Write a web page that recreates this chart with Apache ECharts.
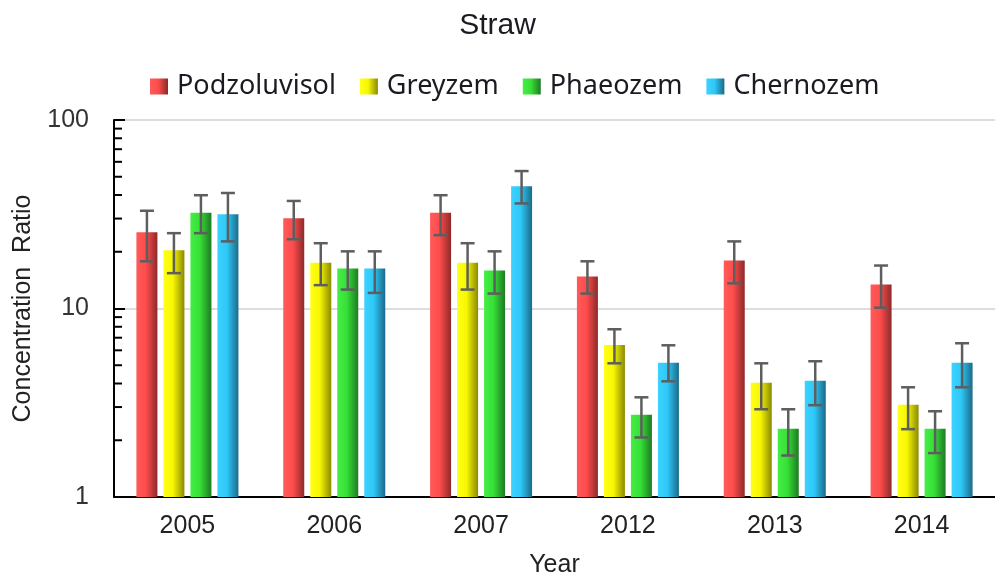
<!DOCTYPE html>
<html>
<head>
<meta charset="utf-8">
<script src="https://cdn.jsdelivr.net/npm/echarts@6/dist/echarts.min.js"></script>
<style>
  html, body { margin: 0; padding: 0; background: #fff; }
  #chart_1 { width: 995px; height: 585px; }
</style>
</head>
<body>
<div id="chart_1"></div>
<script>
var years = ['2005', '2006', '2007', '2012', '2013', '2014'];
var soils = ['Podzoluvisol', 'Greyzem', 'Phaeozem', 'Chernozem'];

var podzoluvisol = [25.4, 30.1, 32.2, 14.8, 18.0, 13.4];
var greyzem = [20.4, 17.5, 17.5, 6.4, 4.04, 3.09];
var phaeozem = [32.2, 16.3, 15.9, 2.73, 2.30, 2.30];
var chernozem = [31.6, 16.3, 44.5, 5.16, 4.14, 5.16];

// error bar low / high
var podzoluvisolErr = [[17.8, 33], [23.3, 37.2], [24.5, 39.9], [12.0, 17.8], [13.6, 22.7], [10.1, 16.9]];
var greyzemErr = [[15.4, 25.1], [13.3, 22.2], [12.6, 22.2], [5.12, 7.76], [2.92, 5.12], [2.29, 3.82]];
var phaeozemErr = [[25.1, 39.9], [12.6, 20.1], [12.0, 20.1], [2.07, 3.38], [1.66, 2.92], [1.71, 2.85]];
var chernozemErr = [[22.7, 41], [12.1, 20.1], [36.1, 53.6], [4.11, 6.38], [3.07, 5.25], [3.82, 6.54]];

var minorTicks = [2, 3, 4, 5, 6, 7, 8, 9, 20, 30, 40, 50, 60, 70, 80, 90];

var values = [podzoluvisol, greyzem, phaeozem, chernozem];
var errors = [podzoluvisolErr, greyzemErr, phaeozemErr, chernozemErr];
var colors = [
    ['#ff5a5a', '#ff4c4c', '#8c2a2a'],
    ['#ffff1a', '#f7f700', '#8a8a00'],
    ['#45ee45', '#36e036', '#1e7a24'],
    ['#3dd2ff', '#2ec8f8', '#1b6a88']
];

var BAR_W = 21;
var STEP = 27;
var FONT = 'Liberation Sans';

function grad(c) {
    return new echarts.graphic.LinearGradient(0, 0, 1, 0, [
        {offset: 0, color: c[0]},
        {offset: 0.45, color: c[1]},
        {offset: 1, color: c[2]}
    ]);
}

var series = [];
soils.forEach(function (name, i) {
    series.push({
        name: name,
        type: 'bar',
        data: values[i],
        barWidth: BAR_W,
        barGap: '28.6%',
        itemStyle: {color: grad(colors[i])}
    });
});

soils.forEach(function (name, i) {
    var off = (i - 1.5) * STEP;
    series.push({
        type: 'custom',
        name: name + ' err',
        z: 5,
        silent: true,
        data: errors[i].map(function (e, k) { return [k, e[0], e[1]]; }),
        encode: {x: 0, y: [1, 2]},
        renderItem: function (params, api) {
            var lo = api.coord([api.value(0), api.value(1)]);
            var hi = api.coord([api.value(0), api.value(2)]);
            var x = lo[0] + off;
            var style = {stroke: '#5e5e5e', lineWidth: 2.5};
            return {
                type: 'group',
                children: [
                    {type: 'line', shape: {x1: x, y1: lo[1], x2: x, y2: hi[1]}, style: style},
                    {type: 'line', shape: {x1: x - 7, y1: lo[1], x2: x + 7, y2: lo[1]}, style: style},
                    {type: 'line', shape: {x1: x - 7, y1: hi[1], x2: x + 7, y2: hi[1]}, style: style}
                ]
            };
        }
    });
});

// minor log ticks on the y axis
series.push({
    type: 'custom',
    name: 'minor',
    silent: true,
    z: 6,
    data: minorTicks.map(function (v) { return [0, v]; }),
    encode: {x: 0, y: 1},
    renderItem: function (params, api) {
        var p = api.coord([0, api.value(1)]);
        var x0 = params.coordSys.x;
        return {
            type: 'line',
            shape: {x1: x0, y1: p[1], x2: x0 + 8, y2: p[1]},
            style: {stroke: '#000', lineWidth: 2}
        };
    }
});

var option = {
    backgroundColor: '#fff',
    animation: false,
    title: {
        text: 'Straw',
        left: 'center',
        top: 6,
        textStyle: {fontFamily: FONT, fontSize: 30, fontWeight: 'normal', color: '#1a1a22'}
    },
    legend: {
        data: soils,
        left: 145,
        top: 68,
        itemWidth: 18,
        itemHeight: 16,
        itemGap: 24,
        icon: 'rect',
        textStyle: {fontFamily: 'Noto Sans', fontSize: 27, color: '#1a1a22', padding: [0, 0, 0, 4]}
    },
    grid: {left: 114, right: 0, top: 120, bottom: 88, containLabel: false},
    xAxis: {
        type: 'category',
        data: years,
        name: 'Year',
        nameLocation: 'middle',
        nameGap: 56,
        nameTextStyle: {fontFamily: FONT, fontSize: 25, color: '#222'},
        axisLine: {lineStyle: {color: '#000', width: 2}},
        axisTick: {show: false},
        axisLabel: {fontFamily: FONT, fontSize: 25, color: '#222', margin: 17}
    },
    yAxis: {
        type: 'log',
        min: 1,
        max: 100,
        logBase: 10,
        name: 'Concentration  Ratio',
        nameLocation: 'middle',
        nameGap: 78,
        nameTextStyle: {fontFamily: FONT, fontSize: 25, color: '#222'},
        axisLine: {show: true, lineStyle: {color: '#000', width: 2}},
        axisTick: {show: true, inside: true, length: 11, lineStyle: {color: '#000', width: 2}},
        axisLabel: {fontFamily: FONT, fontSize: 25, color: '#333', margin: 25},
        splitLine: {lineStyle: {color: '#ddd', width: 2}}
    },
    series: series
};

echarts.init(document.getElementById('chart_1')).setOption(option);
</script>
</body>
</html>
